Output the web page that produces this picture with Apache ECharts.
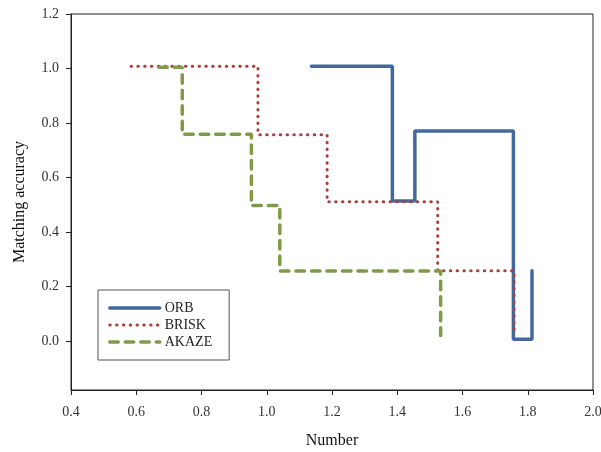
<!DOCTYPE html>
<html>
<head>
<meta charset="utf-8">
<script src="https://cdn.jsdelivr.net/npm/echarts@6/dist/echarts.min.js"></script>
<style>
  html, body { margin: 0; padding: 0; background: #fff; }
  #chart { width: 601px; height: 452px; }
</style>
</head>
<body>
<div id="chart"></div>
<script>
// step points: each value holds until the next x, then drops/rises
const orbX = [1.137, 1.385, 1.454, 1.756, 1.813];
const orbY = [1.008, 0.514, 0.771, 0.006, 0.258];
const briskX = [0.584, 0.973, 1.185, 1.524, 1.758];
const briskY = [1.008, 0.757, 0.511, 0.258, 0.028];
const akazeX = [0.669, 0.741, 0.953, 1.040, 1.533];
const akazeY = [1.005, 0.759, 0.497, 0.257, 0.020];
const yTicks = [0, 0.2, 0.4, 0.6, 0.8, 1.0, 1.2];

const font = "Liberation Serif";
const pairs = (xs, ys) => xs.map((x, i) => [x, ys[i]]);

const chart = echarts.init(document.getElementById("chart"));

chart.setOption({
  backgroundColor: "#fff",
  animation: false,
  grid: {
    left: 71,
    right: 8,
    top: 14,
    bottom: 62,
    outerBoundsMode: "none",
    show: true,
    borderColor: "#222",
    borderWidth: 1,
  },
  legend: {
    orient: "vertical",
    left: 98,
    top: 290,
    itemWidth: 50,
    itemHeight: 10,
    itemGap: 3,
    padding: [11, 17, 11, 10],
    borderColor: "#555",
    borderWidth: 1,
    itemStyle: { opacity: 0 },
    lineStyle: { width: "inherit", type: "inherit" },
    textStyle: { fontFamily: font, fontSize: 14, color: "#222" },
    data: ["ORB", "BRISK", "AKAZE"],
  },
  xAxis: {
    type: "value",
    min: 0.4,
    max: 2.0,
    interval: 0.2,
    name: "Number",
    nameLocation: "middle",
    nameGap: 43,
    nameTextStyle: { fontFamily: font, fontSize: 16, color: "#111" },
    axisLine: { onZero: false, lineStyle: { color: "#222" } },
    axisTick: { length: 5, lineStyle: { color: "#222" } },
    axisLabel: {
      fontFamily: font,
      fontSize: 14,
      color: "#333",
      margin: 15,
      formatter: v => v.toFixed(1),
    },
    splitLine: { show: false },
  },
  yAxis: {
    type: "value",
    min: -0.18,
    max: 1.2,
    name: "Matching accuracy",
    nameLocation: "middle",
    nameGap: 43,
    nameTextStyle: { fontFamily: font, fontSize: 16, color: "#111" },
    axisLine: { show: true, onZero: false, lineStyle: { color: "#222" } },
    axisTick: { show: true, length: 5, customValues: yTicks, lineStyle: { color: "#222" } },
    axisLabel: {
      fontFamily: font,
      fontSize: 14,
      color: "#333",
      margin: 12,
      customValues: yTicks,
      formatter: v => v.toFixed(1),
    },
    splitLine: { show: false },
  },
  series: [
    {
      name: "ORB",
      type: "line",
      step: "end",
      symbol: "none",
      color: "#41699e",
      lineStyle: { width: 3.5, color: "#41699e", cap: "round" },
      data: pairs(orbX, orbY),
    },
    {
      name: "BRISK",
      type: "line",
      step: "end",
      symbol: "none",
      color: "#a8403e",
      lineStyle: { width: 3, color: "#a8403e", type: [0.5, 6.3], cap: "round" },
      data: pairs(briskX, briskY),
    },
    {
      name: "AKAZE",
      type: "line",
      step: "end",
      symbol: "none",
      color: "#7f9b47",
      lineStyle: { width: 3.5, color: "#7f9b47", type: [8.5, 7], cap: "round" },
      data: pairs(akazeX, akazeY),
    },
  ],
});
</script>
</body>
</html>
